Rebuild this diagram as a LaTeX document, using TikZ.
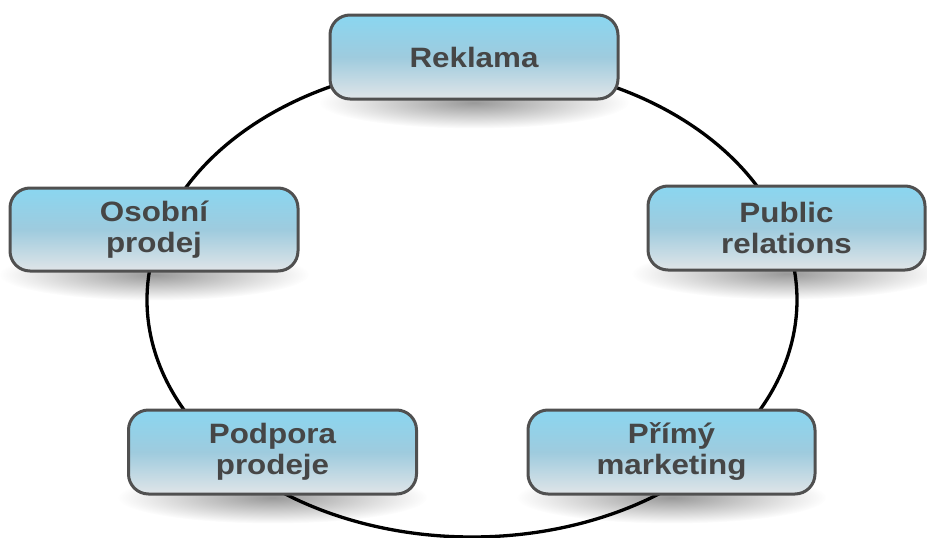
\documentclass[tikz,border=0pt]{standalone}
\usepackage{fontspec}
\setmainfont{Liberation Sans}
\usetikzlibrary{fadings,calc}

\pgfdeclarelayer{shadow}
\pgfdeclarelayer{ring}
\pgfsetlayers{shadow,ring,main}

\definecolor{boxtop}{RGB}{138,214,240}
\definecolor{boxmid}{RGB}{158,203,222}
\definecolor{boxbot}{RGB}{224,229,232}
\definecolor{boxedge}{RGB}{80,80,80}
\definecolor{boxtext}{RGB}{70,70,70}

% radial fade: opaque centre, clear rim
\tikzfading[name=softspot, inner color=transparent!0, outer color=transparent!100]

% labels are set wide, as in the slide they come from
\newcommand\widetext[1]{\scalebox{1.12}[1]{#1}}

\begin{document}
\begin{tikzpicture}[x=1pt,y=-1pt,
  stage/.style={draw=boxedge, line width=3pt, rounded corners=20pt,
    top color=boxtop, bottom color=boxbot, middle color=boxmid,
    minimum width=288pt, minimum height=84pt, inner sep=0pt,
    align=center, text=boxtext,
    font=\fontsize{28}{31}\selectfont\bfseries},
  ring/.style={line width=3.3pt, black},
  softshadow/.style={fill=black, opacity=0.4, path fading=softspot}]

\useasboundingbox (0,0) rectangle (927,538);

% the five tools of the promotion mix
\node[stage] (rek) at (474,57) {\widetext{Reklama}};
\node[stage, minimum height=83pt] (oso) at (154,229.5) {\widetext{Osobní}\\\widetext{prodej}};
\node[stage, minimum width=277pt] (pub) at (786.5,228) {\widetext{Public}\\\widetext{relations}};
\node[stage] (pod) at (272.5,452) {\widetext{Podpora}\\\widetext{prodeje}};
\node[stage, minimum width=287pt] (pri) at (671.5,452) {\widetext{Přímý}\\\widetext{marketing}};

% soft shadows under each box
\begin{pgfonlayer}{shadow}
  \foreach \n in {rek,oso,pub,pod,pri}
    \fill[softshadow] ($(\n.south)+(0,2)$) ellipse [x radius=155, y radius=26];
\end{pgfonlayer}

% the cycle linking the boxes, running behind them
\coordinate (hub) at (472,300);
\begin{pgfonlayer}{ring}
  \draw[ring] (hub) ++(270:325 and 237) arc[start angle=270, end angle=342.5, x radius=325, y radius=237];
  \draw[ring] (hub) ++(342.5:325 and 237) arc[start angle=342.5, end angle=406, x radius=325, y radius=237];
  \draw[ring] (hub) ++(46:325 and 237) arc[start angle=46, end angle=134, x radius=325, y radius=237];
  \draw[ring] (hub) ++(134:325 and 237) arc[start angle=134, end angle=197, x radius=325, y radius=237];
  \draw[ring] (hub) ++(197:325 and 237) arc[start angle=197, end angle=270, x radius=325, y radius=237];
\end{pgfonlayer}

\end{tikzpicture}
\end{document}
